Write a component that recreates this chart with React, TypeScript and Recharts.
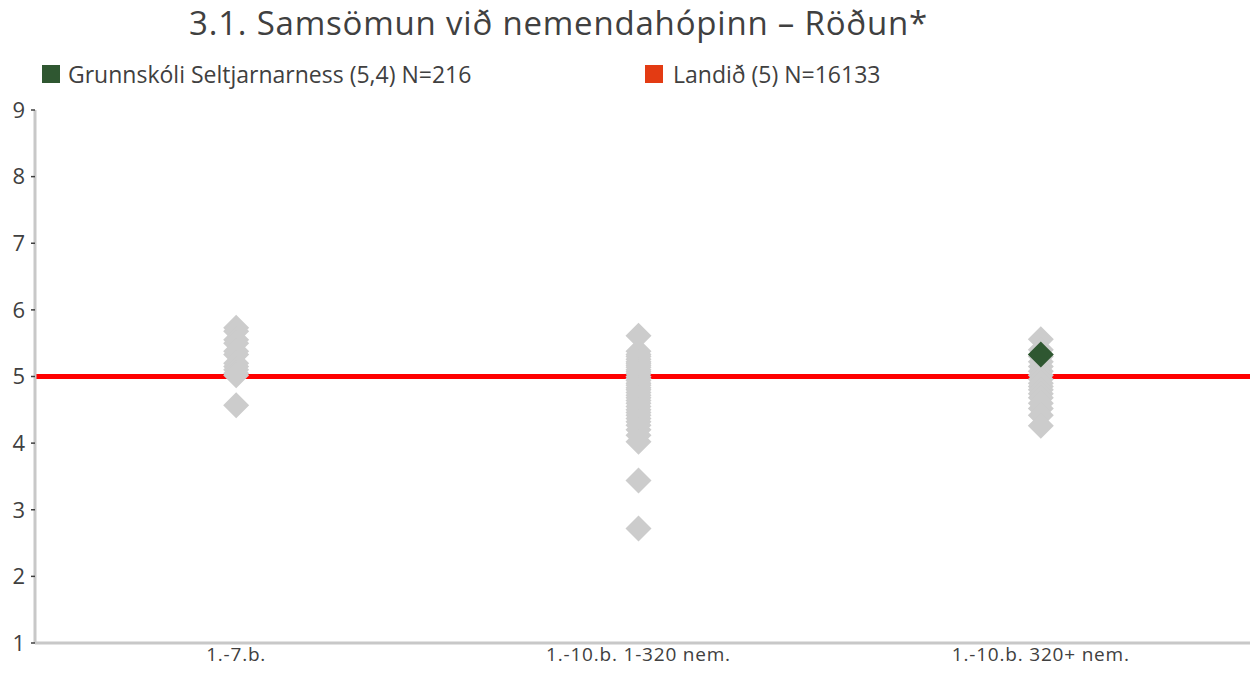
import { ScatterChart, Scatter, XAxis, YAxis, ReferenceLine } from "recharts";

const groupLabels = ["1.-7.b.", "1.-10.b. 1-320 nem.", "1.-10.b. 320+ nem."];
const groupPositions = [0.5, 1.5, 2.5];
const yTicks = [1, 2, 3, 4, 5, 6, 7, 8, 9];

// school means in each size group (grey diamonds)
const group1Values = [5.73, 5.68, 5.55, 5.5, 5.38, 5.33, 5.2, 5.15, 5.1, 5.05, 5.02, 4.57];
const group2Values = [
  5.61, 5.38, 5.33, 5.3, 5.26, 5.22, 5.2, 5.17, 5.14, 5.1, 5.07, 5.04, 5.0, 4.97,
  4.94, 4.9, 4.87, 4.83, 4.8, 4.76, 4.72, 4.68, 4.64, 4.6, 4.55, 4.5, 4.46, 4.42,
  4.37, 4.32, 4.27, 4.2, 4.12, 4.02, 3.44, 2.72,
];
const group3Values = [
  5.56, 5.4, 5.3, 5.22, 5.15, 5.08, 5.02, 4.96, 4.9, 4.85, 4.8, 4.74, 4.68, 4.6,
  4.52, 4.42, 4.26,
];

const title = "3.1. Samsömun við nemendahópinn – Röðun*";
const schoolName = "Grunnskóli Seltjarnarness (5,4) N=216";
const schoolGroup = 2.5;
const schoolValue = 5.33;
const countryName = "Landið (5) N=16133";
const countryValue = 5;

const grey = "#cccccc";
const green = "#2f5731";
const textColor = "#404040";

const otherSchools = [group1Values, group2Values, group3Values].flatMap((vals, i) =>
  vals.map((v) => ({ x: groupPositions[i], y: v }))
);
const thisSchool = [{ x: schoolGroup, y: schoolValue }];

function Diamond(props: { cx?: number; cy?: number; fill?: string }) {
  const { cx, cy, fill } = props;
  if (cx == null || cy == null) return null;
  const r = 13;
  return (
    <polygon
      points={`${cx},${cy - r} ${cx + r},${cy} ${cx},${cy + r} ${cx - r},${cy}`}
      fill={fill}
    />
  );
}

const font = "'Open Sans', Lato, sans-serif";

export default function App() {
  return (
    <div
      style={{
        position: "absolute",
        left: 0,
        top: 0,
        width: 1260,
        height: 673,
        background: "#ffffff",
      }}
    >
      <ScatterChart
        width={1260}
        height={673}
        margin={{ top: 110, right: 10, bottom: 0, left: 8 }}
        style={{ position: "absolute", left: 0, top: 0 }}
      >
        <XAxis
          type="number"
          dataKey="x"
          domain={[0, 3.02]}
          ticks={groupPositions}
          tickFormatter={(v: number) => groupLabels[groupPositions.indexOf(v)] ?? ""}
          axisLine={{ stroke: "#c8c8c8", strokeWidth: 3 }}
          tickLine={false}
          tick={{ fill: textColor, fontSize: 19, fontFamily: font, letterSpacing: 0.8 }}
          height={30}
          dy={-3}
        />
        <YAxis
          type="number"
          dataKey="y"
          domain={[1, 9]}
          ticks={yTicks}
          interval={0}
          width={27}
          axisLine={{ stroke: "#c8c8c8", strokeWidth: 3 }}
          tickLine={{ stroke: textColor, strokeWidth: 1.5 }}
          tickSize={4}
          tickMargin={6}
          tick={{ fill: textColor, fontSize: 22, fontFamily: font }}
        />
        <Scatter data={otherSchools} fill={grey} shape={<Diamond />} isAnimationActive={false} />
        <ReferenceLine y={countryValue} stroke="#ff0000" strokeWidth={5} />
        <Scatter data={thisSchool} fill={green} shape={<Diamond />} isAnimationActive={false} />
      </ScatterChart>
      <svg
        width={1260}
        height={100}
        style={{ position: "absolute", left: 0, top: 0 }}
        fontFamily={font}
      >
        <text x={558.5} y={35} textAnchor="middle" fontSize={33} fill={textColor} letterSpacing={0.8}>
          {title}
        </text>
        <rect x={42} y={65} width={18} height={18} fill={green} />
        <text x={68} y={83} fontSize={23} fill={textColor}>
          {schoolName}
        </text>
        <rect x={645} y={65} width={18} height={18} fill="#e33b13" />
        <text x={673} y={83} fontSize={23} fill={textColor}>
          {countryName}
        </text>
      </svg>
    </div>
  );
}
